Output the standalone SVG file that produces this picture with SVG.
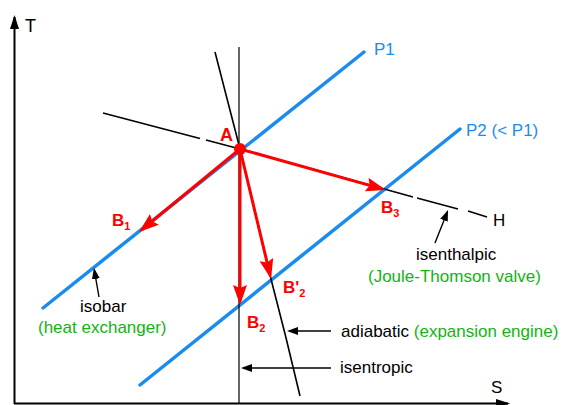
<svg xmlns="http://www.w3.org/2000/svg" width="566" height="405" viewBox="0 0 566 405">
<defs>
<style>
text{font-family:"Liberation Sans",Arial,sans-serif;font-size:17px}
.blk{fill:#000}
.grn{fill:#12b312}
.red{fill:#ff0000;font-weight:bold;font-size:17px}
.sub{font-size:11px}
.blue{fill:#1a8cf0}
.iso{stroke:#1a8cf0;stroke-width:3.5;fill:none;stroke-linecap:round}
.thin{stroke:#000;fill:none}
.proc{stroke:#ff0000;stroke-width:3;fill:none;marker-end:url(#rh)}
.ann{stroke:#000;stroke-width:1.4;fill:none;marker-end:url(#bh)}
</style>
<marker id="rh" markerUnits="userSpaceOnUse" markerWidth="20" markerHeight="14" refX="16" refY="7" orient="auto">
<path d="M0,0 L20,7 L0,14 L3,7 z" fill="#ff0000"/>
</marker>
<marker id="bh" markerUnits="userSpaceOnUse" markerWidth="11" markerHeight="8" refX="9" refY="4" orient="auto">
<path d="M0,0 L11,4 L0,8 z" fill="#000"/>
</marker>
<marker id="ax" markerUnits="userSpaceOnUse" markerWidth="14" markerHeight="9" refX="12" refY="4.5" orient="auto">
<path d="M0,0 L14,4.5 L0,9 z" fill="#000"/>
</marker>
</defs>

<g id="axes">
<path class="thin" d="M14.5,404 V17" stroke-width="2" marker-end="url(#ax)"/>
<path class="thin" d="M14,403.5 H508" stroke-width="2" marker-end="url(#ax)"/>
<text x="25" y="32" class="blk" style="font-size:18px">T</text>
<text x="491" y="393" class="blk">S</text>
</g>

<g id="isobars">
<path class="iso" d="M43,308 L364,52"/>
<path class="iso" d="M140,385 L460,129"/>
<text x="374" y="55" class="blue">P1</text>
<text x="466" y="136" class="blue">P2 (&lt; P1)</text>
</g>

<g id="reference-lines">
<path class="thin" stroke-width="1.2" d="M239,47 V403"/>
<path class="thin" stroke-width="1.6" d="M215,52 L240,149 L271,279 Q286,336 300,396"/>
<path class="thin" stroke-width="1.6" d="M103,113 L200,138.5 M206,140 L240,149 L413,197 M417,198 L458,209 M468,211 L487,217"/>
<text x="493" y="226" class="blk">H</text>
</g>

<g id="connectors">
<path class="proc" d="M240,149 L142.1,229.5"/>
<path class="proc" d="M240,149 L240,301"/>
<path class="proc" d="M240,149 L270.1,275.1"/>
<path class="proc" d="M240,149 L382.1,188.9"/>
<path class="ann" d="M99,297 L94.3,270"/>
<path class="ann" d="M435,243 L447.3,211.9"/>
<path class="ann" d="M331,331 L289,331"/>
<path class="ann" d="M331,368 L243,368"/>
</g>

<g id="A">
<circle cx="240" cy="149" r="6" fill="#ff0000"/>
<text x="220" y="141" class="red" style="font-size:18px">A</text>
</g>
<g id="B1"><text x="112" y="226" class="red">B<tspan class="sub" dy="4">1</tspan></text></g>
<g id="B2"><text x="247" y="328" class="red">B<tspan class="sub" dy="4">2</tspan></text></g>
<g id="B2prime"><text x="283" y="293" class="red">B'<tspan class="sub" dy="4">2</tspan></text></g>
<g id="B3"><text x="381" y="213" class="red">B<tspan class="sub" dy="4">3</tspan></text></g>

<g id="isobar-label">
<text x="80" y="312" class="blk">isobar</text>
<text x="38" y="333" class="grn">(heat exchanger)</text>
</g>
<g id="isenthalpic-label">
<text x="416" y="260" class="blk">isenthalpic</text>
<text x="368" y="282" class="grn">(Joule-Thomson valve)</text>
</g>
<g id="adiabatic-label">
<text x="341" y="337" class="blk">adiabatic <tspan class="grn">(expansion engine)</tspan></text>
</g>
<g id="isentropic-label">
<text x="340" y="373" class="blk">isentropic</text>
</g>
</svg>
